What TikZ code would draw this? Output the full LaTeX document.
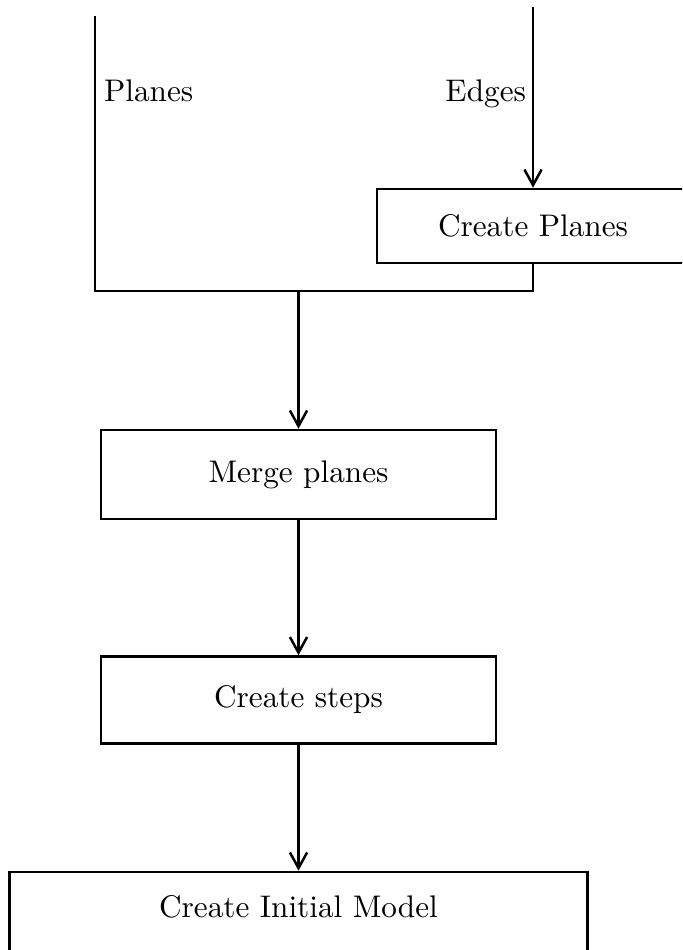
\documentclass[tikz,border=0pt]{standalone}
\usetikzlibrary{positioning, arrows.meta}

\begin{document}
\begin{tikzpicture}[
  x=0.32pt, y=-0.32pt,
  procbox/.style={rectangle, draw, thick, minimum width=126.4pt, text centered},
  arrow/.style={-{Straight Barb[length=5pt,width=5.5pt]}, thick},
  line/.style={thick}
]

\clip (0,0) rectangle (682,950);

% Inputs
\coordinate (planestop) at (95,16);
\coordinate (edgestop) at (533,7);
\node[anchor=base west] (planeslbl) at (93,102) {Planes};
\node[anchor=base east] (edgeslbl) at (537,102) {Edges};

\node[procbox, minimum width=99.84pt, minimum height=23.68pt] (createplanes) at (533,226) {Create Planes};

% Main chain
\coordinate (join) at (298.5,291);
\node[procbox, minimum height=28.48pt] (merge) at (298.5,474.5) {Merge planes};
\node[procbox, minimum height=27.84pt, below=43.2pt of merge] (steps) {Create steps};
\node[procbox, minimum width=184.96pt, text height=6.94pt, text depth=15pt, inner ysep=7.7pt, below=40.3pt of steps] (initial) {Create Initial Model};

% Arrows
\draw[arrow] (edgestop) -- (createplanes);
\draw[line] (planestop) |- (join);
\draw[line] (createplanes.south) |- (join);
\draw[arrow] (join) -- (merge);
\draw[arrow] (merge) -- (steps);
\draw[arrow] (steps) -- (initial);

\end{tikzpicture}
\end{document}
